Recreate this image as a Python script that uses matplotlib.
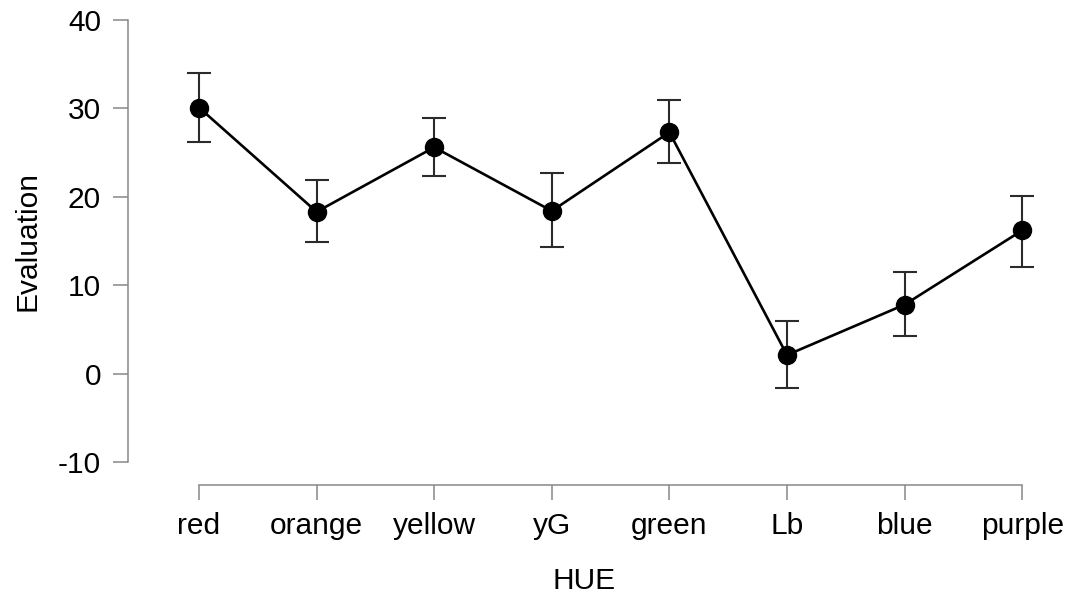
import matplotlib.pyplot as plt
import numpy as np

plt.rcParams['font.family'] = ['Liberation Sans', 'DejaVu Sans']
plt.rcParams['axes.unicode_minus'] = False

# Mean evaluation per hue with upper / lower error limits
hues = ['red', 'orange', 'yellow', 'yG', 'green', 'Lb', 'blue', 'purple']
means = [30.1, 18.3, 25.6, 18.4, 27.3, 2.1, 7.8, 16.2]
upper = [34.0, 21.9, 28.9, 22.7, 30.9, 6.0, 11.5, 20.1]
lower = [26.2, 14.9, 22.3, 14.3, 23.8, -1.6, 4.2, 12.1]

x = np.arange(len(hues))
means = np.array(means)
yerr = [means - np.array(lower), np.array(upper) - means]

fig = plt.figure(figsize=(10.69, 5.95), dpi=100)
ax = fig.add_axes([0.1197, 0.2235, 0.853, 0.7429])

ax.errorbar(x, means, yerr=yerr, fmt='none', ecolor='#2b2b2b',
            elinewidth=1.5, capsize=8.3, capthick=1.5, zorder=2)
ax.plot(x, means, color='black', lw=1.9, marker='o', ms=13,
        markerfacecolor='black', markeredgecolor='black', zorder=3)

ax.set_xlim(-0.604, 7.15)
ax.set_ylim(-10, 40)
ax.set_xticks(x)
ax.set_xticklabels(hues)
ax.set_yticks([-10, 0, 10, 20, 30, 40])

for side in ['top', 'right']:
    ax.spines[side].set_visible(False)
ax.spines['left'].set_bounds(-10, 40)
ax.spines['bottom'].set_bounds(0, 7)
ax.spines['bottom'].set_position(('outward', 16.6))
for side in ['left', 'bottom']:
    ax.spines[side].set_color('#888888')
    ax.spines[side].set_linewidth(1.1)

ax.tick_params(axis='both', colors='#888888', labelcolor='black',
               length=10.5, width=1.1, labelsize=21.5)
ax.tick_params(axis='y', pad=9)
ax.tick_params(axis='x', pad=9)

ax.set_xlabel('HUE', fontsize=21.5, labelpad=19)
ax.set_ylabel('Evaluation', fontsize=21.5, labelpad=12)

fig.savefig('out.png', dpi=100, facecolor='white')
